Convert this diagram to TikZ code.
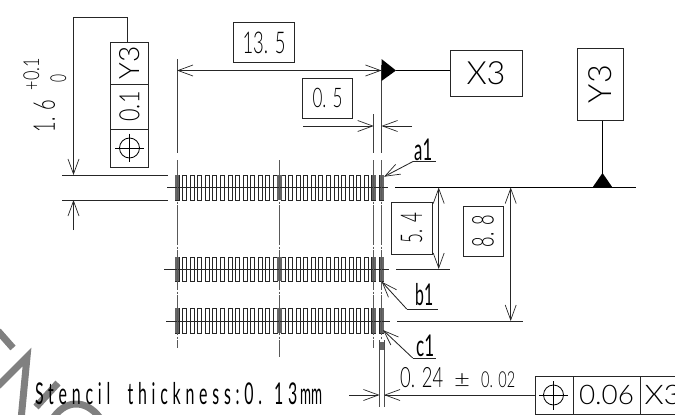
\documentclass[tikz,border=0pt]{standalone}
\usepackage{fontspec}
\setmainfont{Lato}[UprightFont=* Light]
\newfontfamily\regf{Lato}
\usetikzlibrary{arrows.meta}
\tikzset{
  dim/.style={draw=black!85,line width=0.85pt},
  dimar/.style={dim,{Straight Barb[length=15pt,width=11pt,line width=0.7pt]}-{Straight Barb[length=15pt,width=11pt,line width=0.7pt]}},
  oneend/.style={dim,-{Straight Barb[length=15pt,width=11pt,line width=0.7pt]}},
  cline/.style={draw=black!65,line width=0.9pt,dash pattern=on 40pt off 1.5pt on 2pt off 1.5pt},
  boxn/.style={draw=black!85,line width=1pt,fill=white,inner sep=0pt,anchor=center},
  wm/.style={draw=black!50,line width=7pt},
  pad/.style={draw=black!85,line width=0.9pt},
  lbl/.style={inner sep=0pt}
}
\newcommand{\nw}[2]{\resizebox{#1}{\height}{#2}}
\newcommand{\fs}[1]{\fontsize{#1}{#1}\selectfont}
\begin{document}
\begin{tikzpicture}[x=1pt,y=-1pt,font=\fs{30}]
\useasboundingbox (0,0) rectangle (675,415);
% watermark
\draw[wm] (-2,331) -- (13,348);
\draw[wm] (-2,386) -- (27,357) -- (21,420);
\draw[wm] (36,407) -- (58,383);
\draw[wm] (52,420) .. controls (64,400) and (85,398) .. (100,418);
% pads
\foreach \yt/\yb/\yc in {175/200/187.5,257/281/269,308/333/321}{
  \foreach \i in {0,...,27}{
    \draw[pad] ({175+7.57*\i},\yt) rectangle ({179+7.57*\i},\yb);
  }
  \fill[black!60] (175,\yt) rectangle (179,\yb);
  \fill[black!60] (277,\yt) rectangle (281.5,\yb);
  \fill[black!60] (372,\yt) rectangle (376,\yb);
  \fill[black!60] (379.5,\yt) rectangle (383.5,\yb);
}
% horizontal centre lines
\draw[black!85,line width=0.85pt] (167,187.5) -- (388,187.5);
\draw[black!85,line width=0.85pt] (164,269) -- (389,269);
\draw[black!85,line width=0.85pt] (166,321) -- (390,321);
% vertical centre lines
\draw[black!75,line width=0.9pt] (177,59) -- (177,153);
\draw[cline] (177,160) -- (177,348);
\draw[cline] (279.5,160) -- (279.5,357);
\draw[black!75,line width=0.9pt] (373.7,114) -- (373.7,153);
\draw[cline] (373.7,160) -- (373.7,348);
\draw[black!75,line width=0.9pt] (381.5,65) -- (381.5,153);
\draw[cline] (381.5,160) -- (381.5,340);
% solder column below
\draw[black!70,line width=1pt] (379.5,340) -- (379.5,407);
\draw[black!70,line width=1pt] (384,340) -- (384,407);
\fill[black!60] (379.5,342) rectangle (384,350);
% 13.5 dim
\coordinate (d1) at (177,70.5);
\coordinate (d2) at (381.5,70.5);
\draw[dimar] (d1) -- (d2);
\node[boxn,minimum width=61pt,minimum height=40pt] (b135) at (264,42.5) {\nw{43pt}{13. 5}};
% 0.5 dim
\node[boxn,minimum width=50pt,minimum height=40pt,anchor=east] (b05) at (353,98) {\nw{30pt}{\fs{27}0. 5}};
\coordinate (h05a) at (303,126);
\coordinate (h05b) at (373.7,126);
\coordinate (h05c) at (381.5,126);
\coordinate (h05d) at (412,126);
\draw[oneend] (h05a) -- (h05b);
\draw[oneend] (h05d) -- (h05c);
% datum X3
\fill[black] (381.5,59) -- (396,70.5) -- (381.5,81) -- cycle;
\node[boxn,minimum width=72pt,minimum height=46pt] (x3) at (486,73) {\nw{39pt}{\fs{32}X3}};
\draw[black,line width=0.9pt] (396,70.5) -- (x3.west |- d2);
% datum Y3
\node[boxn,minimum width=46pt,minimum height=72pt] (y3) at (600,84) {\rotatebox{90}{\nw{38pt}{\fs{32}Y3}}};
\coordinate (ytri) at (602.5,174);
\fill[black] (592.5,187.5) -- (602.5,173) -- (612.5,187.5) -- cycle;
\draw[black,line width=0.9pt] (y3.south -| ytri) -- (ytri);
\draw[black,line width=1pt] (395,187.5) -- (636,187.5);
% left frame
\node[boxn,minimum width=38pt,minimum height=42pt] (fy) at (129.5,63) {\rotatebox{90}{\nw{33pt}{\fs{28}Y3}}};
\node[boxn,minimum width=38pt,minimum height=45pt] (f01) at (129.5,106.5) {\rotatebox{90}{\nw{30pt}{\fs{28}0.1}}};
\node[boxn,minimum width=38pt,minimum height=38pt] (fp) at (129.5,148) {};
\draw[black,line width=0.8pt] (fp.center) circle (10pt);
\draw[black,line width=0.8pt] (115,148) -- (144,148) (129.5,133.5) -- (129.5,162);
\coordinate (lt) at (73.5,17);
\coordinate (rt) at (127,17);
\draw[black!85,line width=0.85pt] (rt |- fy.north) -- (rt) -- (lt);
\draw[oneend] (lt) -- (73.5,175);
\draw[oneend] (73.5,230) -- (73.5,200);
\draw[dim] (62,175) -- (168,175);
\draw[dim] (62,200) -- (168,200);
% tolerance 1.6
\node[lbl,rotate=90,anchor=base] (t16) at (55,116) {\nw{32pt}{1. 6}};
\node[lbl,rotate=90,anchor=base] (t01) at (39,74) {\nw{32pt}{\fs{22}+0.1}};
\node[lbl,rotate=90,anchor=base] (t0) at (66,78.5) {\nw{8pt}{\fs{22}0}};
% 5.4
\draw[dim] (396,269) -- (450,269);
\coordinate (a54) at (438.7,187.5);
\coordinate (b54) at (438.7,269);
\draw[dimar] (a54) -- (b54);
\node[boxn,minimum width=41pt,minimum height=52pt] (b54n) at (411.5,228) {\rotatebox{90}{\nw{30pt}{5. 4}}};
% 8.8
\draw[dim] (397,321) -- (522.5,321);
\coordinate (a88) at (510.7,187.5);
\coordinate (b88) at (510.7,321);
\draw[dimar] (a88) -- (b88);
\node[boxn,minimum width=40pt,minimum height=50pt] (b88n) at (483,231) {\rotatebox{90}{\nw{32pt}{8. 8}}};
% leaders
\coordinate (la) at (384,176.7);
\coordinate (lae) at (413,161.5);
\coordinate (lb) at (381.7,281.7);
\coordinate (lbe) at (406.7,309);
\coordinate (lc) at (383,330);
\coordinate (lce) at (412.7,358);
\draw[oneend] (lae) -- (la);
\draw[dim] (lae) -- (436,161.5);
\draw[oneend] (lbe) -- (lb);
\draw[dim] (lbe) -- (438,309);
\draw[oneend] (lce) -- (lc);
\draw[dim] (lce) -- (436,358);
\node[lbl,anchor=base west] (ta) at (414,160) {\nw{18pt}{\regf a1}};
\node[lbl,anchor=base west] (tb) at (415,305) {\nw{18pt}{\regf b1}};
\node[lbl,anchor=base west] (tc) at (416,356) {\nw{18pt}{\regf c1}};
% bottom frame
\node[boxn,minimum width=38pt,minimum height=38pt] (gp) at (554,395) {};
\draw[black,line width=0.8pt] (553.5,395) circle (10pt);
\draw[black,line width=0.8pt] (539,395) -- (568,395) (553.5,381) -- (553.5,410);
\node[boxn,minimum width=67pt,minimum height=38pt] (g06) at (606.5,395) {\nw{55pt}{\fs{27}0.06}};
\node[boxn,minimum width=45pt,minimum height=38pt,anchor=west,text width=45pt,align=left] (gx) at (640,395) {\hspace*{4pt}\nw{37pt}{\fs{27}X3}};
\coordinate (q1) at (349,395);
\coordinate (q2) at (379.5,395);
\coordinate (q3) at (384,395);
\draw[oneend] (q1) -- (q2);
\draw[oneend] (gp.west |- q3) -- (q3);
\node[lbl,anchor=base west] (t024) at (400,387) {\nw{43pt}{\fs{28}0. 24}};
\node[lbl,anchor=base west] (tpm) at (454,387) {\nw{16pt}{\fs{24}±}};
\node[lbl,anchor=base west] (t002) at (481,387) {\nw{34pt}{\fs{22}0. 02}};
\node[lbl,anchor=base west] (ts) at (35,404) {\nw{262pt}{\regf\addfontfeature{LetterSpace=30}Stencil \hspace{16pt}thickness:0. 13}};
\node[lbl,anchor=base west] (tm) at (300,404) {\nw{22pt}{\regf mm}};
\end{tikzpicture}
\end{document}
